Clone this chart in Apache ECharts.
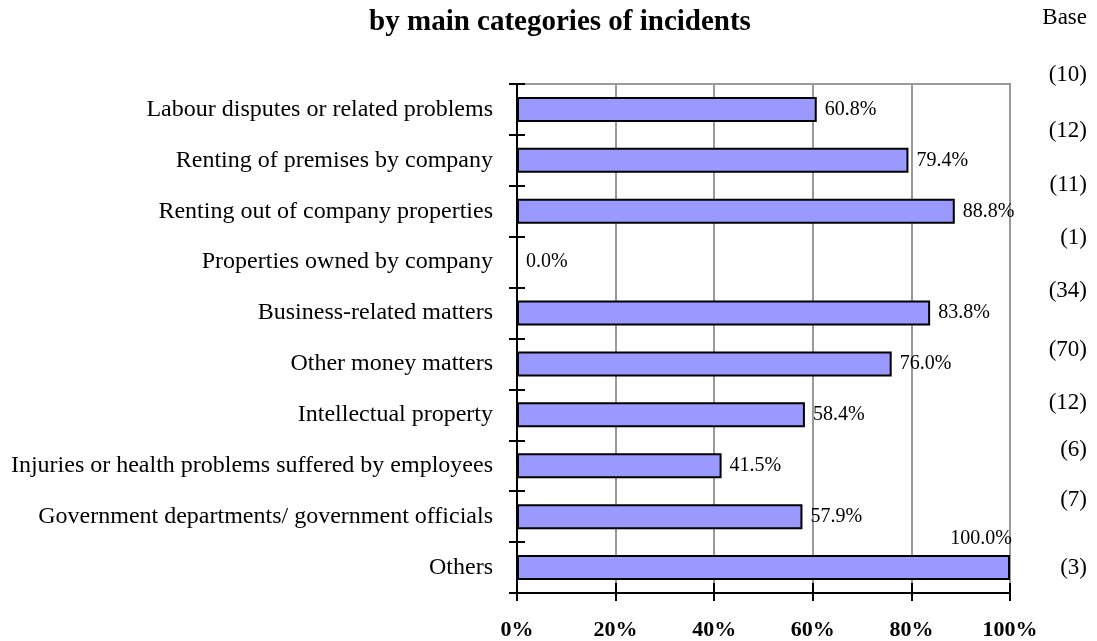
<!DOCTYPE html>
<html>
<head>
<meta charset="utf-8">
<script src="https://cdn.jsdelivr.net/npm/echarts@6/dist/echarts.min.js"></script>
<style>
  html, body { margin: 0; padding: 0; background: #fff; }
  #chart { width: 1097px; height: 641px; }
</style>
</head>
<body>
<div id="chart"></div>
<script>
// Share of incidents by category, with the base (number of cases) per category
var categories = [
  'Labour disputes or related problems',
  'Renting of premises by company',
  'Renting out of company properties',
  'Properties owned by company',
  'Business-related matters',
  'Other money matters',
  'Intellectual property',
  'Injuries or health problems suffered by employees',
  'Government departments/ government officials',
  'Others'
];
var percentValues = [60.8, 79.4, 88.8, 0.0, 83.8, 76.0, 58.4, 41.5, 57.9, 100.0];
var baseCounts = ['(10)', '(12)', '(11)', '(1)', '(34)', '(70)', '(12)', '(6)', '(7)', '(3)'];
var xTicks = [0, 20, 40, 60, 80, 100];

var FONT = '"Liberation Serif", "Times New Roman", serif';

var chart = echarts.init(document.getElementById('chart'));

var barData = percentValues.map(function (v) {
  var item = { value: v };
  if (v >= 100) {
    // full-width bar: value sits above the bar's right end
    item.label = {
      position: ['100%', 0],
      align: 'right',
      verticalAlign: 'bottom',
      offset: [2, -6]
    };
  }
  return item;
});

var option = {
  animation: false,
  backgroundColor: '#ffffff',
  title: {
    text: 'by main categories of incidents',
    left: 555,
    textAlign: 'center',
    top: 3,
    textStyle: { fontFamily: FONT, fontSize: 29, fontWeight: 'bold', color: '#000' }
  },
  grid: {
    left: 517, right: 87, top: 84, bottom: 47,
    show: true, borderColor: '#9a9a9a', borderWidth: 2, containLabel: false
  },
  xAxis: [{
    type: 'value',
    min: xTicks[0],
    max: xTicks[xTicks.length - 1],
    interval: 20,
    axisLine: { show: true, lineStyle: { color: '#000', width: 2 } },
    axisTick: { show: true, length: 8, lineStyle: { color: '#000', width: 2 } },
    axisLabel: {
      formatter: '{value}%', margin: 26, color: '#000',
      fontFamily: FONT, fontSize: 22, fontWeight: 'bold'
    },
    splitLine: { show: true, lineStyle: { color: '#9a9a9a', width: 2 } }
  }, {
    type: 'value',
    position: 'bottom',
    min: xTicks[0],
    max: xTicks[xTicks.length - 1],
    interval: 20,
    axisLine: { show: false },
    axisTick: { show: true, inside: true, length: 10, lineStyle: { color: '#000', width: 2 } },
    axisLabel: { show: false },
    splitLine: { show: false }
  }],
  yAxis: [{
    type: 'category',
    inverse: true,
    data: categories,
    axisLine: { show: true, lineStyle: { color: '#000', width: 2 } },
    axisTick: { show: true, length: 8, lineStyle: { color: '#000', width: 2 } },
    axisLabel: { margin: 24, color: '#000', fontFamily: FONT, fontSize: 24 },
    splitLine: { show: false }
  }, {
    type: 'category',
    position: 'left',
    inverse: true,
    data: categories,
    axisLine: { show: false },
    axisTick: { show: true, inside: true, length: 8, lineStyle: { color: '#000', width: 2 } },
    axisLabel: { show: false },
    splitLine: { show: false }
  }],
  series: [{
    type: 'bar',
    xAxisIndex: 0,
    yAxisIndex: 0,
    data: barData,
    barWidth: 25,
    itemStyle: { color: '#9999ff', borderColor: '#000', borderWidth: 2 },
    label: {
      show: true,
      position: 'right',
      distance: 8,
      color: '#000',
      fontFamily: FONT,
      fontSize: 20,
      formatter: function (p) { return p.value.toFixed(1) + '%'; }
    }
  }]
};

chart.setOption(option);

// Base column on the right, set as free text beside the plot
var baseRight = 1087;
var baseRowY = [75, 131, 185, 238, 291, 350, 403, 450, 500, 568];
var texts = [{
  type: 'text', x: baseRight, y: 18,
  style: { text: 'Base', textAlign: 'right', textVerticalAlign: 'middle',
           font: '23px ' + FONT, fill: '#000' }
}];
baseCounts.forEach(function (t, i) {
  texts.push({
    type: 'text', x: baseRight, y: baseRowY[i],
    style: { text: t, textAlign: 'right', textVerticalAlign: 'middle',
             font: '23px ' + FONT, fill: '#000' }
  });
});
chart.setOption({ graphic: texts });
</script>
</body>
</html>
